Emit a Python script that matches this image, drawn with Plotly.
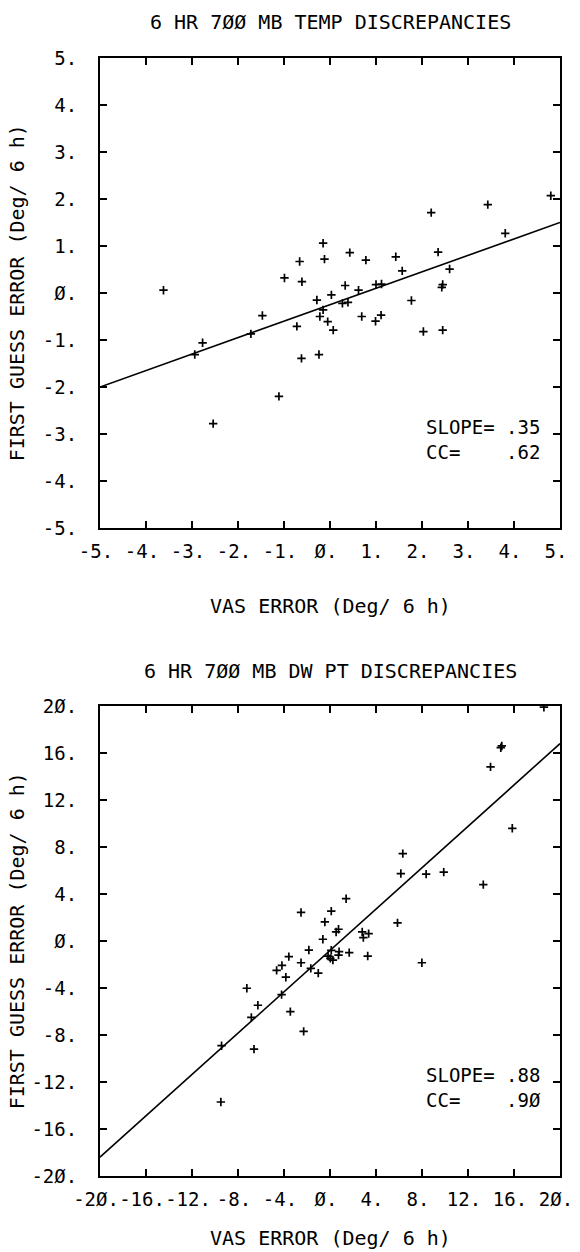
import plotly.graph_objects as go

# ---------------- data ----------------
temp_x = [-3.62, -2.94, -2.77, -2.54, -1.72, -1.47, -1.11, -0.99, -0.72, -0.66,
          -0.61, -0.62, -0.285, -0.24, -0.22, -0.15, -0.15, -0.12, -0.05, 0.03,
          0.07, 0.27, 0.33, 0.39, 0.43, 0.62, 0.69, 0.78, 0.99, 1.00,
          1.11, 1.12, 1.43, 1.57, 1.77, 2.03, 2.20, 2.35, 2.43, 2.45,
          2.45, 2.60, 3.43, 3.81, 4.80]
temp_y = [0.06, -1.31, -1.06, -2.78, -0.87, -0.48, -2.20, 0.32, -0.71, 0.67,
          0.24, -1.39, -0.15, -1.31, -0.50, -0.36, 1.06, 0.72, -0.61, -0.04,
          -0.79, -0.22, 0.16, -0.20, 0.86, 0.06, -0.50, 0.70, -0.60, 0.18,
          -0.47, 0.19, 0.77, 0.47, -0.16, -0.82, 1.71, 0.87, 0.12, 0.18,
          -0.79, 0.51, 1.88, 1.27, 2.07]
temp_fit_x = [-5.0, 5.0]
temp_fit_y = [-2.0, 1.5]

dew_x = [-9.49, -9.43, -7.23, -6.84, -6.61, -6.27, -4.64, -4.21, -4.18, -3.84,
         -3.58, -3.45, -2.52, -2.52, -2.29, -1.84, -1.67, -1.02, -0.62, -0.45,
         -0.17, 0.03, 0.11, 0.11, 0.25, 0.53, 0.74, 0.74, 0.79, 1.40,
         1.67, 2.80, 2.90, 3.28, 3.36, 5.87, 6.16, 6.33, 7.99, 8.36,
         9.89, 13.33, 13.96, 14.94, 14.85, 15.85, 18.6]
dew_y = [-13.70, -8.91, -4.02, -6.50, -9.20, -5.47, -2.50, -4.56, -2.08, -3.08,
         -1.33, -6.01, 2.43, -1.85, -7.69, -0.77, -2.33, -2.73, 0.15, 1.62,
         -1.28, -1.48, 2.54, -0.79, -1.62, 0.77, 1.00, -1.20, -0.90, 3.60,
         -0.99, 0.77, 0.29, -1.28, 0.63, 1.54, 5.74, 7.44, -1.85, 5.69,
         5.86, 4.80, 14.82, 16.60, 16.45, 9.59, 19.9]
dew_fit_x = [-20.0, 20.0]
dew_fit_y = [-18.4, 16.8]

temp_ticks = [-5, -4, -3, -2, -1, 0, 1, 2, 3, 4, 5]
temp_ticktext = ["-5.", "-4.", "-3.", "-2.", "-1.", "Ø.", "1.", "2.", "3.", "4.", "5."]
dew_ticks = [-20, -16, -12, -8, -4, 0, 4, 8, 12, 16, 20]
dew_ticktext = ["-2Ø.", "-16.", "-12.", "-8.", "-4.", "Ø.", "4.", "8.", "12.", "16.", "2Ø."]

titles = ["6 HR 7ØØ MB TEMP DISCREPANCIES", "6 HR 7ØØ MB DW PT DISCREPANCIES"]
x_title = "VAS ERROR (Deg/ 6 h)"
y_title = "FIRST GUESS ERROR (Deg/ 6 h)"
temp_stats = "SLOPE= .35<br>CC=\u00a0\u00a0\u00a0\u00a0.62"
dew_stats = "SLOPE= .88<br>CC=\u00a0\u00a0\u00a0\u00a0.9Ø"

# ---------------- layout helpers ----------------
W, H = 580, 1252
ML, MR, MT, MB = 100, 7, 58, 76
PW, PH = W - ML - MR, H - MT - MB
FONT = "DejaVu Sans Mono"


def py(p):  # pixel y -> paper y
    return (H - MB - p) / PH


def px(p):  # pixel x -> paper x
    return (p - ML) / PW


fig = go.Figure()

marker = dict(symbol="cross-thin", size=6, line=dict(width=1.7, color="black"), color="black")
fig.add_trace(go.Scatter(x=temp_x, y=temp_y, mode="markers", marker=marker,
                         xaxis="x", yaxis="y", showlegend=False))
fig.add_trace(go.Scatter(x=temp_fit_x, y=temp_fit_y, mode="lines",
                         line=dict(color="black", width=1.6),
                         xaxis="x", yaxis="y", showlegend=False))
fig.add_trace(go.Scatter(x=dew_x, y=dew_y, mode="markers", marker=marker,
                         xaxis="x2", yaxis="y2", showlegend=False))
fig.add_trace(go.Scatter(x=dew_fit_x, y=dew_fit_y, mode="lines",
                         line=dict(color="black", width=1.6),
                         xaxis="x2", yaxis="y2", showlegend=False))

tickfont = dict(family=FONT, size=19, color="black")
common = dict(ticks="inside", ticklen=7, tickwidth=1.5, tickcolor="black",
              showline=True, linewidth=2, linecolor="black", mirror="ticks",
              showgrid=False, zeroline=False, tickfont=tickfont, tickangle=0,
              ticklabeloverflow="allow")

top_dom = [py(58 + 470), 1.0]
bot_dom = [0.0, py(706)]

fig.update_layout(
    width=W, height=H,
    margin=dict(l=ML, r=MR, t=MT, b=MB, pad=0),
    paper_bgcolor="white", plot_bgcolor="white",
    xaxis=dict(domain=[0, 1], anchor="y", range=[-5, 5], tickvals=temp_ticks,
               ticktext=temp_ticktext, ticklabelstandoff=5, ticklabelshift=-4, **common),
    yaxis=dict(domain=top_dom, anchor="x", range=[-5, 5], tickvals=temp_ticks,
               ticktext=temp_ticktext, ticklabelstandoff=17, **common),
    xaxis2=dict(domain=[0, 1], anchor="y2", range=[-20, 20], tickvals=dew_ticks,
                ticktext=dew_ticktext, ticklabelstandoff=5, ticklabelshift=-4, **common),
    yaxis2=dict(domain=bot_dom, anchor="x2", range=[-20, 20], tickvals=dew_ticks,
                ticktext=dew_ticktext, ticklabelstandoff=17, **common),
)

tfont = dict(family=FONT, size=20, color="black")
ann = []
# titles
ann.append(dict(text=titles[0], x=0.5, y=py(22), xref="paper", yref="paper",
                showarrow=False, font=tfont, xanchor="center", yanchor="middle"))
ann.append(dict(text=titles[1], x=0.5, y=py(671), xref="paper", yref="paper",
                showarrow=False, font=tfont, xanchor="center", yanchor="middle"))
# x titles
ann.append(dict(text=x_title, x=0.5, y=py(606), xref="paper", yref="paper",
                showarrow=False, font=tfont, xanchor="center", yanchor="middle"))
ann.append(dict(text=x_title, x=0.5, y=py(1238), xref="paper", yref="paper",
                showarrow=False, font=tfont, xanchor="center", yanchor="middle"))
# y titles
ann.append(dict(text=y_title, x=px(15), y=py(293), xref="paper", yref="paper",
                showarrow=False, font=tfont, textangle=-90,
                xanchor="center", yanchor="middle"))
ann.append(dict(text=y_title, x=px(15), y=py(941), xref="paper", yref="paper",
                showarrow=False, font=tfont, textangle=-90,
                xanchor="center", yanchor="middle"))
# stats
sfont = dict(family=FONT, size=19, color="black")
ann.append(dict(text=temp_stats, x=2.05, y=-3.12, xref="x", yref="y", align="left",
                showarrow=False, font=sfont, xanchor="left", yanchor="middle"))
ann.append(dict(text=dew_stats, x=8.15, y=-12.45, xref="x2", yref="y2", align="left",
                showarrow=False, font=sfont, xanchor="left", yanchor="middle"))
fig.update_layout(annotations=ann)

fig.write_html("out.html")
